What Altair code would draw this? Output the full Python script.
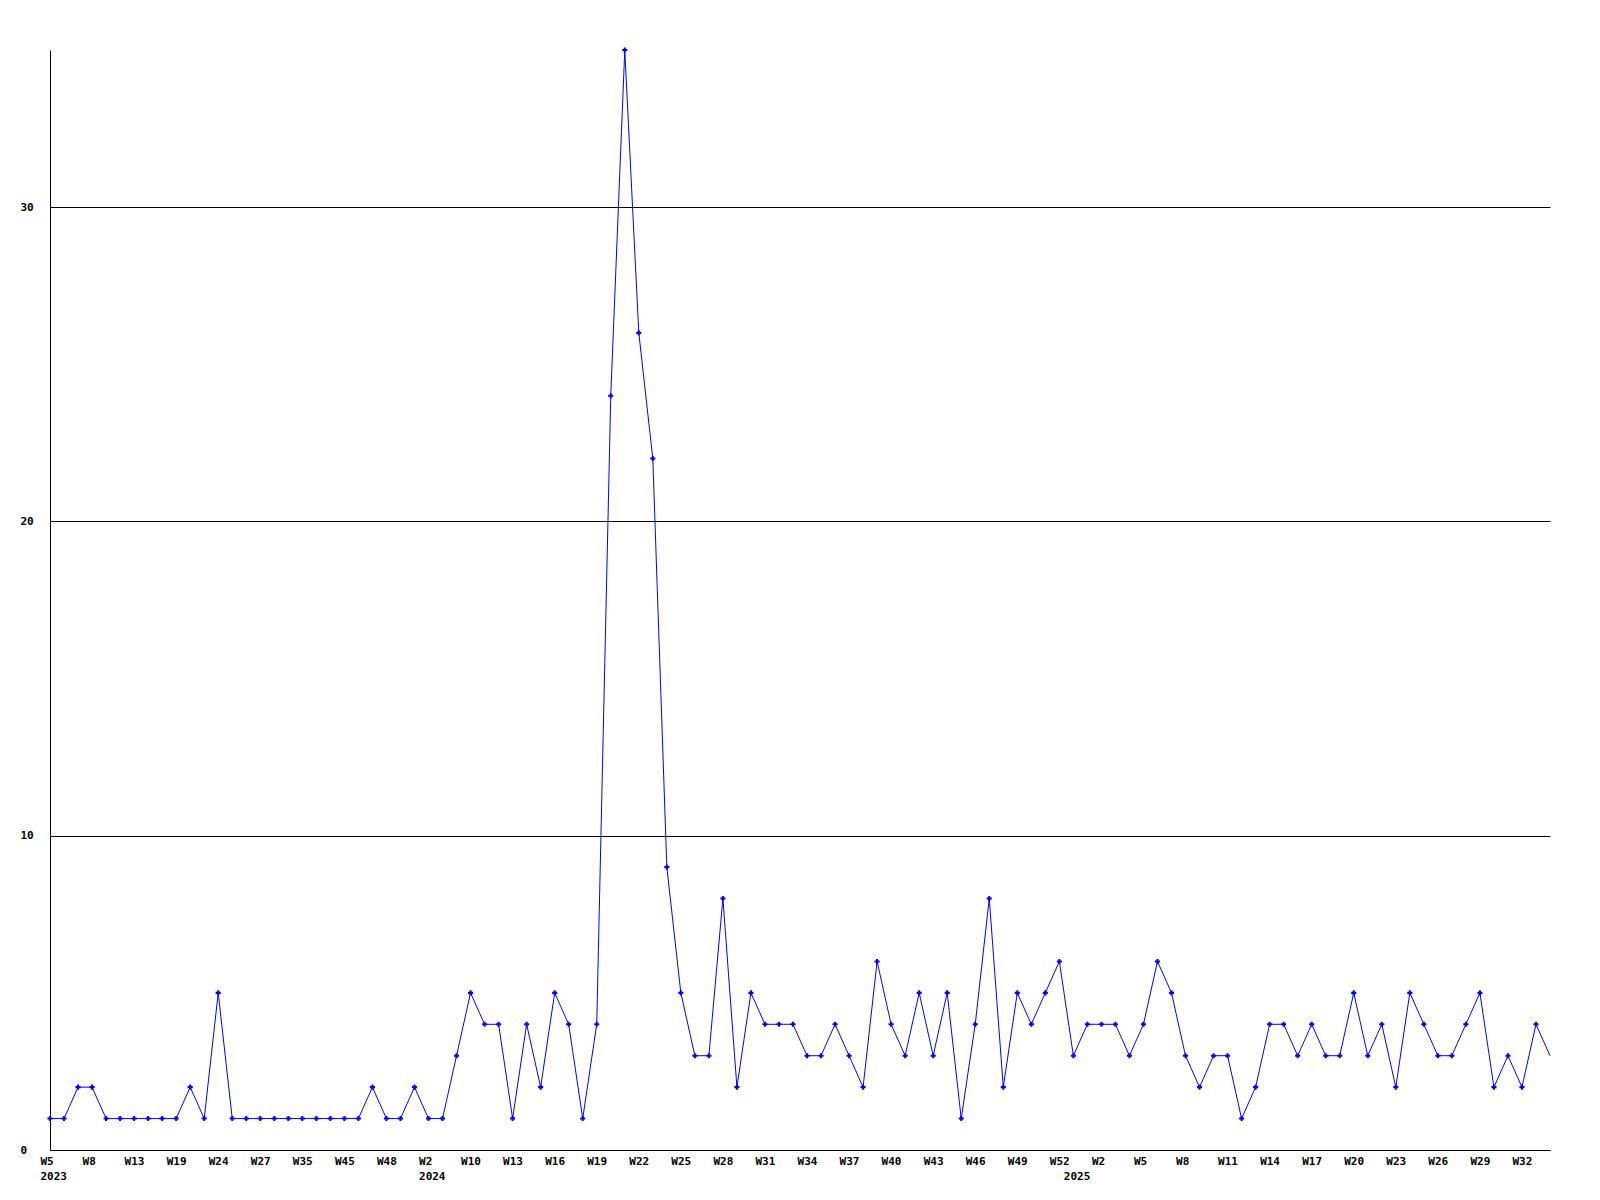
import altair as alt
import pandas as pd

# Weekly counts, one per week with data
values = [1, 1, 2, 2, 1, 1, 1, 1, 1, 1, 2, 1, 5, 1, 1, 1, 1, 1, 1, 1,
          1, 1, 1, 2, 1, 1, 2, 1, 1, 3, 5, 4, 4, 1, 4, 2, 5, 4, 1, 4,
          24, 35, 26, 22, 9, 5, 3, 3, 8, 2, 5, 4, 4, 4, 3, 3, 4, 3, 2, 6,
          4, 3, 5, 3, 5, 1, 4, 8, 2, 5, 4, 5, 6, 3, 4, 4, 4, 3, 4, 6,
          5, 3, 2, 3, 3, 1, 2, 4, 4, 3, 4, 3, 3, 5, 3, 4, 2, 5, 4, 3,
          3, 4, 5, 2, 3, 2, 4, 3]

weeks_2023 = [5, 6, 7, 8, 9, 11, 13, 15, 17, 19, 21, 22, 24, 25, 26, 27, 30, 33,
              35, 38, 41, 45, 46, 47, 48, 50, 52]
weeks_2024 = [2, 5, 7, 10, 11, 12, 13, 14, 15, 16, 17, 18, 19, 20, 21, 22, 23, 24,
              25, 26, 27, 28, 29, 30, 31, 32, 33, 34, 35, 36, 37, 38, 39, 40, 41,
              42, 43, 44, 45, 46, 47, 48, 49, 50, 51, 52]
weeks_2025 = [0, 1, 2, 3, 4, 5, 6, 7, 8, 9, 10, 11, 12, 13, 14, 15, 16, 17, 18,
              19, 20, 21, 22, 23, 24, 25, 26, 27, 28, 29, 30, 31, 32, 33, 34]

weeks = weeks_2023 + weeks_2024 + weeks_2025
years = [2023] * len(weeks_2023) + [2024] * len(weeks_2024) + [2025] * len(weeks_2025)

n = len(values)
df = pd.DataFrame({"idx": list(range(n)), "value": values})
last_idx = n - 1

tick_idx = list(range(0, n - 2, 3))
year_start = [i for i in range(n) if i == 0 or years[i] != years[i - 1]]
all_ticks = sorted(set(tick_idx) | set(year_start))

parts = []
for i in all_ticks:
    w = f"W{weeks[i]}" if i in tick_idx else ""
    if i in year_start:
        parts.append(f"datum.value == {i} ? ['{w}', '{years[i]}']")
    else:
        parts.append(f"datum.value == {i} ? '{w}'")
label_expr = " : ".join(parts) + " : ''"

FONT = "DejaVu Sans Mono"
BLUE = "#0000ff"

x_enc = alt.X(
    "idx:Q",
    scale=alt.Scale(domain=[0, last_idx], nice=False, zero=False),
    axis=alt.Axis(
        values=all_ticks,
        labelExpr=label_expr,
        title=None,
        grid=False,
        ticks=False,
        domainColor="black",
        labelAlign="left",
        labelBaseline="top",
        labelOffset=-10,
        labelPadding=5,
        labelLineHeight=15.5,
        labelFlush=False,
        labelOverlap=False,
        labelBound=False,
        labelFont=FONT,
        labelFontWeight="bold",
        labelFontSize=11,
        labelColor="black",
    ),
)
y_enc = alt.Y(
    "value:Q",
    scale=alt.Scale(domain=[0, 35], nice=False),
    axis=alt.Axis(
        values=[0, 10, 20, 30],
        title=None,
        grid=True,
        gridColor="black",
        gridWidth=1,
        gridOpacity=1,
        ticks=False,
        domainColor="black",
        labelAlign="left",
        labelBaseline="middle",
        labelPadding=30,
        labelFont=FONT,
        labelFontWeight="bold",
        labelFontSize=11,
        labelColor="black",
    ),
)

line = alt.Chart(df).mark_line(color=BLUE, strokeWidth=1).encode(x=x_enc, y=y_enc)
pts = (
    alt.Chart(df)
    .transform_filter(f"datum.idx < {last_idx}")
    .mark_point(shape="cross", filled=True, size=26, color=BLUE, opacity=1)
    .encode(x="idx:Q", y="value:Q")
)

chart = (
    alt.layer(line, pts)
    .properties(
        width=1500,
        height=1100,
        autosize=alt.AutoSizeParams(type="none"),
        padding={"left": 42, "top": 42, "right": 40, "bottom": 42},
        background="white",
    )
    .configure_view(stroke=None)
)

chart.save("out.html", embed_options={"renderer": "svg", "actions": False})
